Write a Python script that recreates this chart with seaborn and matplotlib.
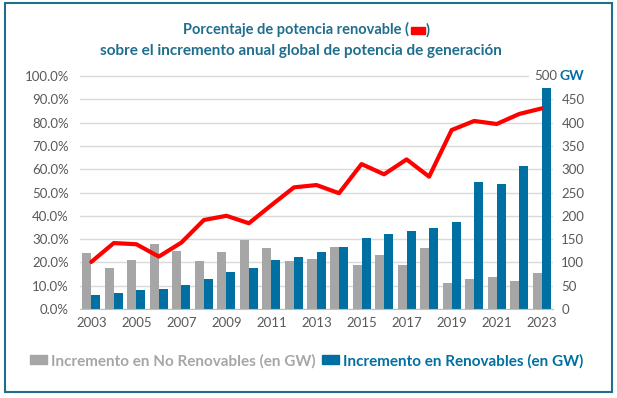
import pandas as pd
import numpy as np
import matplotlib
matplotlib.use('Agg')
import matplotlib.pyplot as plt
import seaborn as sns
from matplotlib.patches import Patch, Rectangle
from matplotlib.offsetbox import TextArea, DrawingArea, HPacker, AnchoredOffsetbox

# Data
years = list(range(2003, 2024))
no_renovables = [120, 88, 105, 140, 124, 103, 122, 148, 131, 103, 107, 133,
                 94, 116, 94, 131, 56, 64, 69, 60, 77]
renovables = [30, 34, 41, 43, 51, 64, 79, 88, 105, 112, 122, 133,
              152, 161, 167, 174, 187, 272, 268, 307, 474]
pct_renovable = [20.2, 28.3, 27.8, 22.5, 28.5, 38.2, 40.0, 36.8, 44.6, 52.2, 53.2,
                 49.7, 62.2, 57.8, 64.2, 56.8, 76.8, 80.7, 79.4, 83.7, 86.1]

lbl_no = 'Incremento en No Renovables (en GW)'
lbl_si = 'Incremento en Renovables (en GW)'

df = pd.DataFrame({'year': years, lbl_no: no_renovables, lbl_si: renovables})
long_df = df.melt(id_vars='year', var_name='tipo', value_name='GW')

GRAY = '#a6a6a6'
BLUE = '#0070a2'
RED = '#ff0000'
TEAL = '#1f6e8e'
TXT = '#595959'

sns.set_style('white')
plt.rcParams['font.family'] = ['Lato', 'DejaVu Sans']

fig = plt.figure(figsize=(6.17, 3.98), dpi=100)
ax = fig.add_axes([80 / 617, 1 - 309 / 398, 473 / 617, 233 / 398])
ax2 = ax.twinx()
ax.set_zorder(1)
ax2.set_zorder(2)

# bars on GW axis (right side)
sns.barplot(data=long_df, x='year', y='GW', hue='tipo', hue_order=[lbl_no, lbl_si],
            palette=[GRAY, BLUE], native_scale=True, width=0.8, saturation=1,
            edgecolor='none', legend=False, ax=ax, zorder=2)
ax.set_ylim(0, 500)
ax.set_xlim(2002.5, 2023.5)
ax.yaxis.tick_right()
ax.set_yticks(np.arange(0, 501, 50))
ax.set_yticklabels([str(v) for v in range(0, 451, 50)] + [''])
ax.tick_params(axis='y', length=0, labelsize=9.5, labelcolor=TXT, pad=6)
ax.grid(axis='y', color='#d9d9d9', lw=1, zorder=0)
ax.yaxis.get_gridlines()[-1].set_visible(False)
ax.axhline(500, xmin=0, xmax=(528 - 80) / 473, color='#d9d9d9', lw=1, clip_on=False)
ax.set_axisbelow(True)
ax.set_xlabel('')
ax.set_ylabel('')

# x ticks: labels on odd years, tick marks at boundaries
ax.set_xticks(years[::2])
ax.set_xticklabels([str(y) for y in years[::2]])
ax.set_xticks(np.arange(2002.5, 2023, 2), minor=True)
ax.tick_params(axis='x', which='major', length=0, labelsize=9.5, labelcolor=TXT, pad=6)
ax.tick_params(axis='x', which='minor', length=4, color='#bfbfbf', width=1)
for s in ['top', 'left', 'right']:
    ax.spines[s].set_visible(False)
ax.spines['bottom'].set_color('#bfbfbf')

# "500 GW" label at the top of the right axis
ax.text((534 - 80) / 473, 1.0, '500', transform=ax.transAxes, ha='left', va='center',
        color=TXT, fontsize=9.5)
ax.text((560 - 80) / 473, 1.0, 'GW', transform=ax.transAxes, ha='left', va='center',
        color=BLUE, fontsize=10, fontweight='bold')

# percentage line on left axis
sns.lineplot(x=years, y=pct_renovable, color=RED, lw=3, ax=ax2)
ax2.set_ylim(0, 100)
ax2.set_xlim(2002.5, 2023.5)
ax2.yaxis.tick_left()
ax2.set_yticks(np.arange(0, 101, 10))
ax2.set_yticklabels([f'{v:.1f}%' for v in range(0, 101, 10)])
ax2.tick_params(axis='y', length=0, labelsize=9.5, labelcolor=TXT, pad=8)
ax2.tick_params(axis='x', length=0, labelbottom=False)
for s in ax2.spines.values():
    s.set_visible(False)

# title with red line marker
tp = dict(color=TEAL, fontsize=10.5, fontweight='bold')
marker = DrawingArea(12, 10)
marker.add_artist(Rectangle((1, 2), 10, 5, color=RED))
row1 = HPacker(children=[TextArea('Porcentaje de potencia renovable (', textprops=tp),
                         marker, TextArea(')', textprops=tp)],
               align='center', pad=0, sep=0)
fig.add_artist(AnchoredOffsetbox(loc='center', child=row1, frameon=False, pad=0,
                                 borderpad=0, bbox_to_anchor=(0.497, 0.925),
                                 bbox_transform=fig.transFigure))
fig.text(0.488, 0.872, 'sobre el incremento anual global de potencia de generación',
         ha='center', va='center', color=TEAL, fontsize=11, fontweight='bold')

# legend
handles = [Patch(color=GRAY), Patch(color=BLUE)]
leg = fig.legend(handles, [lbl_no, lbl_si], loc='center', ncol=2,
                 bbox_to_anchor=(0.497, 0.093), frameon=False,
                 handlelength=1.1, handleheight=0.5, handletextpad=0.3,
                 columnspacing=0.4, labelcolor=[GRAY, BLUE],
                 prop={'weight': 'bold', 'size': 11})

# frame around the figure
fig.patches.append(Rectangle((5 / 617, 1 - 392 / 398), 607 / 617, 389 / 398,
                             transform=fig.transFigure, fill=False,
                             edgecolor=TEAL, lw=1.5))

fig.savefig('out.png', dpi=100)
